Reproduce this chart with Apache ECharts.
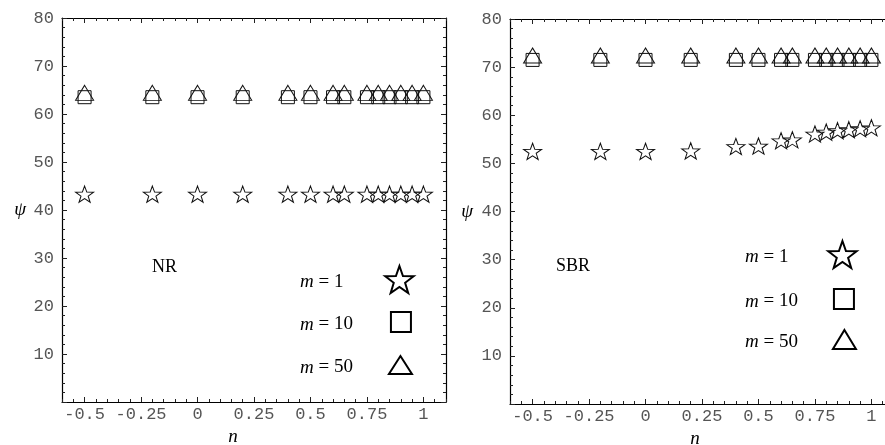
<!DOCTYPE html>
<html lang="en">
<head>
    <meta charset="UTF-8">
    <title>psi vs n, NR and SBR</title>
    <script src="https://cdn.jsdelivr.net/npm/echarts@6/dist/echarts.min.js"></script>
    <style>
        body {
            margin: 0;
            padding: 0;
            background-color: #fff;
        }
        #chart {
            width: 885px;
            height: 445px;
        }
    </style>
</head>
<body>
    <div id="chart"></div>

    <script>
        // n values (x) shared by both panels
        const nValues = [-0.5, -0.2, 0, 0.2, 0.4, 0.5, 0.6, 0.65, 0.75, 0.8, 0.85, 0.9, 0.95, 1];

        // NR panel
        const nrM1 = [43.3, 43.3, 43.3, 43.3, 43.3, 43.3, 43.3, 43.3, 43.3, 43.3, 43.3, 43.3, 43.3, 43.3];
        const nrM10 = [63.5, 63.5, 63.5, 63.5, 63.5, 63.5, 63.5, 63.5, 63.5, 63.5, 63.5, 63.5, 63.5, 63.5];
        const nrM50 = [64.4, 64.4, 64.4, 64.4, 64.4, 64.4, 64.4, 64.4, 64.4, 64.4, 64.4, 64.4, 64.4, 64.4];

        // SBR panel
        const sbrM1 = [52.5, 52.5, 52.5, 52.6, 53.5, 53.6, 54.7, 54.9, 56.1, 56.5, 56.8, 57.0, 57.2, 57.4];
        const sbrM10 = [71.5, 71.5, 71.5, 71.5, 71.5, 71.5, 71.5, 71.5, 71.5, 71.5, 71.5, 71.5, 71.5, 71.5];
        const sbrM50 = [72.4, 72.4, 72.4, 72.4, 72.4, 72.4, 72.4, 72.4, 72.4, 72.4, 72.4, 72.4, 72.4, 72.4];

        // axis ticks
        const xMajorTicks = [-0.5, -0.25, 0, 0.25, 0.5, 0.75, 1];
        const seriesNames = ['m = 1', 'm = 10', 'm = 50'];

        const STAR = 'path://M50 0 L61.76 33.82 L97.55 34.55 L69.02 56.18 L79.39 90.45 L50 70 L20.61 90.45 L30.98 56.18 L2.45 34.55 L38.24 33.82 Z';
        const symbols = [STAR, 'rect', 'triangle'];
        const symbolSizes = [[18, 17], [13, 13], [18, 15]];

        const chart = echarts.init(document.getElementById('chart'));

        const monoLabel = {
            fontFamily: 'Liberation Mono',
            fontSize: 17,
            color: '#555'
        };
        const tickLine = { color: '#222', width: 1 };

        // one set of frame axes per panel
        function makeXAxes(grid, nameShift) {
            const base = {
                gridIndex: grid,
                type: 'value',
                min: -0.6,
                max: 1.1,
                splitLine: { show: false },
                axisLine: { show: true, onZero: false, lineStyle: { color: '#000', width: 1.2 } }
            };
            return [
                Object.assign({}, base, {
                    position: 'bottom',
                    axisTick: { inside: true, length: 5, customValues: xMajorTicks, lineStyle: tickLine },
                    axisLabel: Object.assign({ customValues: xMajorTicks, margin: 4 }, monoLabel),
                    name: 'n',
                    nameLocation: 'middle',
                    nameGap: 21,
                    nameTextStyle: {
                        fontFamily: 'Liberation Serif',
                        fontStyle: 'italic',
                        fontSize: 19,
                        color: '#000',
                        padding: [0, nameShift, 0, 0]
                    }
                }),
                Object.assign({}, base, {
                    position: 'bottom',
                    interval: 0.05,
                    axisLine: { show: false, onZero: false },
                    axisTick: { inside: true, length: 3, lineStyle: tickLine },
                    axisLabel: { show: false }
                }),
                Object.assign({}, base, {
                    position: 'top',
                    axisTick: { inside: true, length: 5, customValues: xMajorTicks, lineStyle: tickLine },
                    axisLabel: { show: false }
                }),
                Object.assign({}, base, {
                    position: 'top',
                    interval: 0.05,
                    axisLine: { show: false, onZero: false },
                    axisTick: { inside: true, length: 3, lineStyle: tickLine },
                    axisLabel: { show: false }
                })
            ];
        }

        function makeYAxes(grid, nameGap) {
            const base = {
                gridIndex: grid,
                type: 'value',
                min: 0,
                max: 80,
                interval: 10,
                splitLine: { show: false },
                axisLine: { show: true, onZero: false, lineStyle: { color: '#000', width: 1.2 } },
                axisTick: { inside: true, length: 5, lineStyle: tickLine },
                minorTick: { show: true, splitNumber: 5, length: 3, lineStyle: tickLine }
            };
            return [
                Object.assign({}, base, {
                    position: 'left',
                    axisLabel: Object.assign({ margin: 8, showMinLabel: false }, monoLabel),
                    name: 'ψ',
                    nameLocation: 'middle',
                    nameRotate: 0,
                    nameGap: nameGap,
                    nameTextStyle: {
                        fontFamily: 'Liberation Serif',
                        fontStyle: 'italic',
                        fontSize: 19,
                        color: '#000'
                    }
                }),
                Object.assign({}, base, {
                    position: 'right',
                    axisLabel: { show: false }
                })
            ];
        }

        function makeSeries(grid, valueSets) {
            return valueSets.map((vals, k) => ({
                name: seriesNames[k],
                type: 'scatter',
                xAxisIndex: grid * 4,
                yAxisIndex: grid * 2,
                symbol: symbols[k],
                symbolSize: symbolSizes[k],
                symbolKeepAspect: true,
                data: nValues.map((n, i) => [n, vals[i]]),
                itemStyle: {
                    color: 'rgba(0,0,0,0)',
                    borderColor: '#111',
                    borderWidth: 1,
                    opacity: 1
                },
                emphasis: { disabled: true },
                z: 2 + k
            }));
        }

        // legend: one component per entry, text left, icon right
        function makeLegend(k, left, top, pad, w, h) {
            return {
                data: [seriesNames[k]],
                left: left,
                top: top,
                padding: 0,
                align: 'right',
                selectedMode: false,
                itemWidth: w,
                itemHeight: h,
                itemStyle: { color: 'rgba(0,0,0,0)', borderColor: '#000', borderWidth: 2 },
                formatter: name => '{i|m}' + name.slice(1),
                textStyle: {
                    fontFamily: 'Liberation Serif',
                    fontSize: 19,
                    color: '#000',
                    padding: [5, pad, 0, 0],
                    rich: {
                        i: { fontFamily: 'Liberation Serif', fontStyle: 'italic', fontSize: 19, color: '#000' }
                    }
                }
            };
        }

        const option = {
            backgroundColor: '#fff',
            animation: false,
            grid: [
                { left: 62, top: 18, width: 384, height: 384, outerBoundsMode: 'none' },
                { left: 510, top: 19, width: 384, height: 385, outerBoundsMode: 'none' }
            ],
            xAxis: makeXAxes(0, 42).concat(makeXAxes(1, 14)),
            yAxis: makeYAxes(0, 36).concat(makeYAxes(1, 37)),
            legend: [
                makeLegend(0, 300, 265, 36, 30, 27),
                makeLegend(1, 300, 311, 33, 20, 20),
                makeLegend(2, 300, 355, 31, 23, 18),
                makeLegend(0, 745, 240, 34, 30, 27),
                makeLegend(1, 745, 288, 31, 20, 20),
                makeLegend(2, 745, 329, 30, 23, 19)
            ],
            graphic: [
                { type: 'text', left: 152, top: 258, style: { text: 'NR', font: '18px "Liberation Serif"', fill: '#000' } },
                { type: 'text', left: 556, top: 257, style: { text: 'SBR', font: '18px "Liberation Serif"', fill: '#000' } }
            ],
            series: makeSeries(0, [nrM1, nrM10, nrM50]).concat(makeSeries(1, [sbrM1, sbrM10, sbrM50]))
        };

        chart.setOption(option);
    </script>
</body>
</html>
